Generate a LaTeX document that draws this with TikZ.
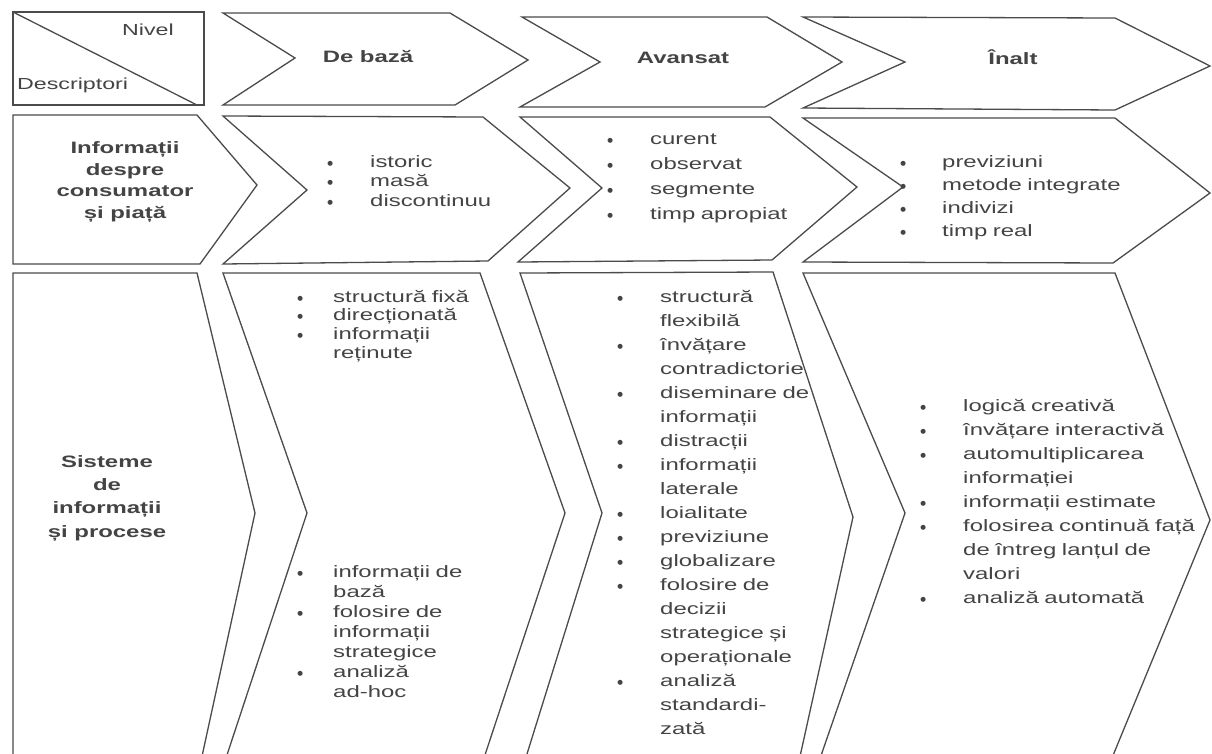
\documentclass[tikz,border=0pt]{standalone}
\usepackage{fontspec}
\setmainfont{Liberation Sans}[FakeStretch=1.45]
\newfontfamily\bulf{DejaVu Sans}
\definecolor{linec}{RGB}{75,75,75}
\definecolor{txtc}{RGB}{68,68,68}
\newlength\bw
\newcommand\bul{\makebox[\bw][l]{\makebox[0pt]{\smash{\raisebox{2pt}{\bulf\fontsize{6.5}{7}\selectfont ●}}}}}
\newcommand\cnt{\hspace*{\bw}}
\tikzset{
  shp/.style={draw=linec, line width=1.3pt, line join=miter},
  lst/.style={anchor=base west, inner sep=0pt, text width=330pt, align=left, text=txtc},
  hdr/.style={anchor=mid, inner sep=0pt, text=txtc, font={\fontsize{16.5}{20}\selectfont\bfseries}},
  rowhd/.style={anchor=center, inner sep=0pt, text=txtc, align=center},
}
\begin{document}
\begin{tikzpicture}[x=1pt,y=-1pt]
\useasboundingbox (0,0) rectangle (1212,753);
\fill[white] (0,0) rectangle (1212,753);
\begin{scope}
\clip (0,0) rectangle (1212,753);
% row 1
\draw[shp] (13,12) rectangle (204,105);
\draw[shp] (13,12) -- (197,105);
\draw[shp] (223,13) -- (450,13) -- (528,60) -- (455,105) -- (223,105) -- (295,58) -- cycle;
\draw[shp] (522,17) -- (767,17) -- (842,62) -- (765,107) -- (520,107) -- (600,62) -- cycle;
\draw[shp] (803,17) -- (1115,18) -- (1210,66) -- (1115,110) -- (803,108) -- (905,62) -- cycle;
% row 2
\draw[shp] (13,115) -- (197,115) -- (257,185) -- (200,264) -- (13,264) -- cycle;
\draw[shp] (223,116) -- (483,117) -- (570,188) -- (488,261) -- (223,264) -- (307,190) -- cycle;
\draw[shp] (520,117) -- (770,117) -- (857,187) -- (772,260) -- (518,262) -- (602,188) -- cycle;
\draw[shp] (803,118) -- (1115,118) -- (1210,193) -- (1113,263) -- (803,262) -- (903,187) -- cycle;
% row 3
\draw[shp] (13,770) -- (13,273) -- (197,273) -- (255,513) -- (199,770);
\draw[shp] (222,770) -- (307,513) -- (223,273) -- (480,273) -- (565,513) -- (480,770);
\draw[shp] (522,770) -- (602,513) -- (520,273) -- (773,272) -- (853,517) -- (797,770);
\draw[shp] (816,770) -- (905,513) -- (803,273) -- (1115,273) -- (1210,520) -- (1107,770);
\end{scope}
% header texts
\node[anchor=mid, inner sep=0pt, text=txtc, font={\fontsize{16}{20}\selectfont}] (nivel) at (148,33) {Nivel};
\node[anchor=mid west, inner sep=0pt, text=txtc, font={\fontsize{16}{20}\selectfont}] (descr) at (17,87) {Descriptori};
\node[hdr] (baza) at (368,60) {De bază};
\node[hdr] (avansat) at (683,61) {Avansat};
\node[hdr] (inalt) at (1013,62) {Înalt};
% row heads
\node[rowhd, font={\fontsize{16.5}{21.5}\selectfont\bfseries}] (info) at (125,182) {Informații\\despre\\consumator\\și piață};
\node[rowhd, font={\fontsize{16.5}{23.3}\selectfont\bfseries}] (sist) at (107,498) {Sisteme\\de\\informații\\și procese};
% row 2 lists
\node[lst, font={\fontsize{16.5}{19.5}\selectfont}] (r2a) at (330,167) {\setlength\bw{40pt}\bul istoric\\\bul masă\\\bul discontinuu};
\node[lst, font={\fontsize{16.5}{25}\selectfont}] (r2b) at (610,144) {\setlength\bw{40pt}\bul curent\\\bul observat\\\bul segmente\\\bul timp apropiat};
\node[lst, font={\fontsize{16.5}{23.3}\selectfont}] (r2c) at (903,167) {\setlength\bw{39pt}\bul previziuni\\\bul metode integrate\\\bul indivizi\\\bul timp real};
% row 3 lists
\node[lst, font={\fontsize{16.5}{18.7}\selectfont}] (r3a) at (300,302) {\setlength\bw{33pt}\bul structură fixă\\\bul direcționată\\\bul informații\\\cnt reținute};
\node[lst, font={\fontsize{16.5}{20}\selectfont}] (r3b) at (300,577) {\setlength\bw{33pt}\bul informații de\\\cnt bază\\\bul folosire de\\\cnt informații\\\cnt strategice\\\bul analiză\\\cnt ad-hoc};
\node[lst, font={\fontsize{16.5}{24}\selectfont}] (r3c) at (620,302) {\setlength\bw{40pt}\bul structură\\\cnt flexibilă\\\bul învățare\\\cnt contradictorie\\\bul diseminare de\\\cnt informații\\\bul distracții\\\bul informații\\\cnt laterale\\\bul loialitate\\\bul previziune\\\bul globalizare\\\bul folosire de\\\cnt decizii\\\cnt strategice și\\\cnt operaționale\\\bul analiză\\\cnt standardi-\\\cnt zată};
\node[lst, font={\fontsize{16.5}{24}\selectfont}] (r3d) at (923,411) {\setlength\bw{40pt}\bul logică creativă\\\bul învățare interactivă\\\bul automultiplicarea\\\cnt informației\\\bul informații estimate\\\bul folosirea continuă față\\\cnt de întreg lanțul de\\\cnt valori\\\bul analiză automată};
\end{tikzpicture}
\end{document}
